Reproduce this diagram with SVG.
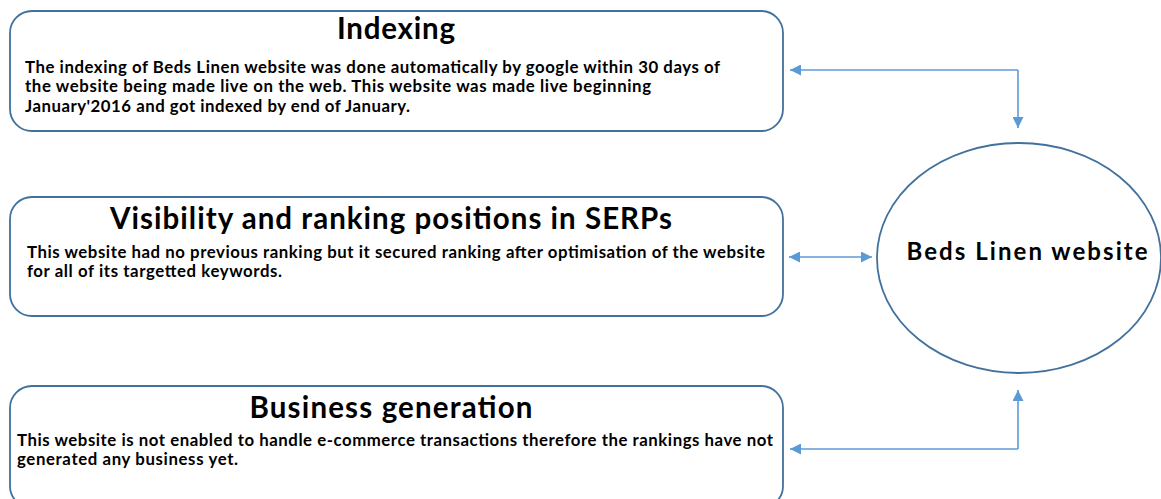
<svg xmlns="http://www.w3.org/2000/svg" width="1161" height="499" viewBox="0 0 1161 499">
<style>
.box{fill:#fff;stroke:#41719c;stroke-width:1.8}
.title{font-family:Lato,"Open Sans","Liberation Sans",sans-serif;font-weight:bold;font-size:29.5px;fill:#000}
.body{font-family:Lato,"Open Sans","Liberation Sans",sans-serif;font-weight:bold;font-size:16.8px;fill:#000}
.conn{fill:none;stroke:#5b9bd5;stroke-width:1.6}
</style>
<defs>
<marker id="ah" viewBox="0 0 10 10" refX="10" refY="5" markerWidth="11" markerHeight="11" markerUnits="userSpaceOnUse" orient="auto-start-reverse">
<path d="M0,0 L10,5 L0,10 z" fill="#5b9bd5"/>
</marker>
</defs>
<rect width="1161" height="499" fill="#fff"/>
<g id="indexing">
<rect class="box" x="10" y="11" width="773" height="120" rx="22" ry="22"/>
<text class="title" x="396" y="39" text-anchor="middle" textLength="118">Indexing</text>
<text class="body" x="25" y="73" textLength="695">The indexing of Beds Linen website was done automatically by google within 30 days of</text>
<text class="body" x="25" y="92" textLength="626">the website being made live on the web. This website was made live beginning</text>
<text class="body" x="25" y="112" textLength="385">January'2016 and got indexed by end of January.</text>
</g>
<g id="visibility">
<rect class="box" x="10" y="197" width="773" height="119" rx="22" ry="22"/>
<text class="title" x="391" y="229" text-anchor="middle" textLength="562">Visibility and ranking positions in SERPs</text>
<text class="body" x="27" y="258" textLength="738">This website had no previous ranking but it secured ranking after optimisation of the website</text>
<text class="body" x="27" y="277" textLength="255">for all of its targetted keywords.</text>
</g>
<g id="business">
<rect class="box" x="10" y="386" width="773" height="122" rx="22" ry="22"/>
<text class="title" x="391" y="418" text-anchor="middle" textLength="283">Business generation</text>
<text class="body" x="17" y="446" textLength="756">This website is not enabled to handle e-commerce transactions therefore the rankings have not</text>
<text class="body" x="17" y="465" textLength="221">generated any business yet.</text>
</g>
<g id="website">
<ellipse class="box" cx="1019" cy="258" rx="142" ry="115"/>
<text class="title" style="font-size:24px" x="1027" y="260" text-anchor="middle" textLength="241">Beds Linen website</text>
</g>
<g id="connectors">
<path class="conn" d="M1018,70 L790,70" marker-end="url(#ah)"/>
<path class="conn" d="M1018,70 L1018,128" marker-end="url(#ah)"/>
<path class="conn" d="M789,257 L872,257" marker-start="url(#ah)" marker-end="url(#ah)"/>
<path class="conn" d="M1018,449 L790,449" marker-end="url(#ah)"/>
<path class="conn" d="M1018,449 L1018,390" marker-end="url(#ah)"/>
</g>
</svg>
